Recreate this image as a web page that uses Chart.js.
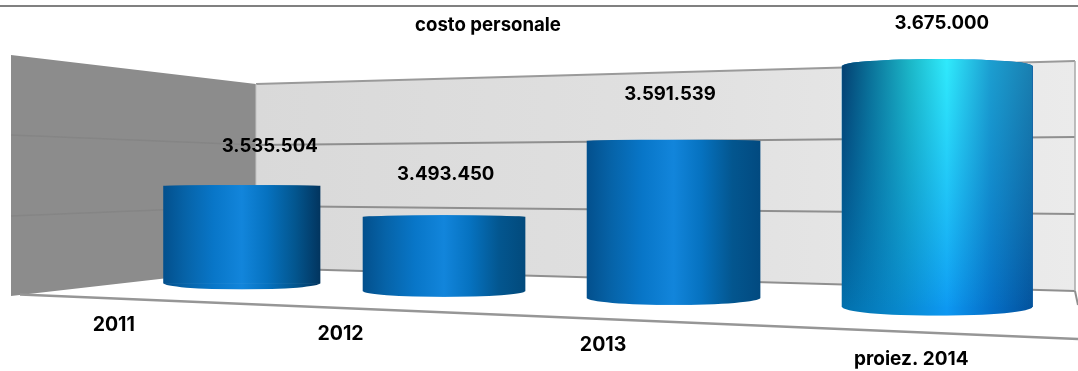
<!DOCTYPE html>
<html>
<head>
<meta charset="utf-8">
<title>costo personale</title>
<style>
  html, body { margin: 0; padding: 0; background: #fff; overflow: hidden; }
  #chart { display: block; }
</style>
<script src="https://cdn.jsdelivr.net/npm/chart.js@4/dist/chart.umd.js"></script>
</head>
<body>
<canvas id="chart" width="1078" height="371"></canvas>
<script>
const chartTitle = 'costo personale';
const categories = ['2011', '2012', '2013', 'proiez. 2014'];
const costValues = [3535504, 3493450, 3591539, 3675000];
const valueLabels = ['3.535.504', '3.493.450', '3.591.539', '3.675.000'];
// the axis does not start at zero and the floor recedes, so every column has its own foot
const columnFeet = [3390000, 3376000, 3363000, 3346000];

// look of the 3d view, per column
const columnWidths = [156.5, 162, 173, 190.5];
const topCapDepth = [1, 2, 1.5, 7];
const footCapDepth = [6.5, 6, 7, 9];
const shadowEdge = ['#02355f', '#024a7c', '#024a80'];
const valueOffsets = [[28, -39.5], [1.7, -42.3], [-3.5, -46.5], [4.5, -42.7]];
const categoryOffsets = [[-128, 42], [-103.5, 43], [-70.5, 47], [-26, 53]];

const FONT_FAMILY = 'Inter, "Open Sans", sans-serif';

// columns get wider apart towards the viewer
class PerspectiveCategoryScale extends Chart.CategoryScale {
    getPixelForDecimal(d) {
        const i = d * 4 - 0.5;
        return this.left + this.width * (0.2243 + 0.17708 * i + 0.00945 * i * i + 0.00107 * i * i * i);
    }
}
PerspectiveCategoryScale.id = 'perspectiveCategory';
PerspectiveCategoryScale.defaults = Chart.CategoryScale.defaults;

// same thing for height
class PerspectiveLinearScale extends Chart.LinearScale {
    getPixelForDecimal(d) {
        return this.bottom - this.height * (0.434 * d + 0.566 * d * d);
    }
}
PerspectiveLinearScale.id = 'perspectiveLinear';
PerspectiveLinearScale.defaults = Chart.LinearScale.defaults;

Chart.register(PerspectiveCategoryScale, PerspectiveLinearScale);

function columnGradient(ctx, left, width, stops) {
    const g = ctx.createLinearGradient(left, 0, left + width, 0);
    stops.forEach(s => g.addColorStop(s[0], s[1]));
    return g;
}

function blueStops(i) {
    return [
        [0, '#03508d'], [0.14, '#0663a8'], [0.32, '#0876c8'], [0.5, '#1285db'],
        [0.66, '#0672c0'], [0.84, '#03568f'], [1, shadowEdge[i]]
    ];
}
const HIGHLIGHT_FOOT_STOPS = [
    [0, '#0270ac'], [0.3, '#0888cc'], [0.55, '#0d98f2'], [0.78, '#0570c8'], [1, '#03529c']
];
const HIGHLIGHT_TOP_STOPS = [
    [0, '#043f70'], [0.14, '#0a6f96'], [0.36, '#1cb8c8'], [0.55, '#30eafc'],
    [0.78, '#1c9fd0'], [1, '#1a7fb0']
];

function fillFor(c) {
    if (c.dataIndex === undefined) return '#0876c8';
    const width = columnWidths[c.dataIndex];
    const left = c.chart.scales.x.getPixelForValue(c.dataIndex) - width / 2;
    // options also get resolved once before the first layout
    if (!isFinite(left)) return '#0876c8';
    const stops = c.dataIndex === 3 ? HIGHLIGHT_FOOT_STOPS : blueStops(c.dataIndex);
    return columnGradient(c.chart.ctx, left, width, stops);
}

function line(ctx, x0, y0, x1, y1, color, w) {
    ctx.strokeStyle = color;
    ctx.lineWidth = w;
    ctx.beginPath();
    ctx.moveTo(x0, y0);
    ctx.lineTo(x1, y1);
    ctx.stroke();
}

const backdrop = {
    id: 'backdrop',
    beforeDraw(chart) {
        const ctx = chart.ctx;
        ctx.save();

        line(ctx, 0, 6, 1078, 6, '#808080', 2);

        // back wall
        const wall = ctx.createLinearGradient(256, 0, 1075, 0);
        wall.addColorStop(0, '#d9d9d9');
        wall.addColorStop(0.5, '#e0e0e0');
        wall.addColorStop(1, '#ebebeb');
        ctx.fillStyle = wall;
        ctx.beginPath();
        ctx.moveTo(256, 84);
        ctx.lineTo(1075, 61);
        ctx.lineTo(1075, 291);
        ctx.lineTo(256, 268);
        ctx.closePath();
        ctx.fill();

        // side wall
        ctx.fillStyle = '#8c8c8c';
        ctx.beginPath();
        ctx.moveTo(11, 55);
        ctx.lineTo(256, 84);
        ctx.lineTo(256, 268);
        ctx.lineTo(11, 296);
        ctx.closePath();
        ctx.fill();
        line(ctx, 11, 135, 256, 145, '#858585', 1.5);
        line(ctx, 11, 216, 256, 206, '#858585', 1.5);

        // gridlines and edges
        line(ctx, 256, 84, 1075, 61, '#9a9a9a', 2);
        line(ctx, 256, 145, 1075, 137, '#8f8f8f', 2);
        line(ctx, 256, 206, 1075, 214, '#8f8f8f', 2);
        line(ctx, 256, 268, 1075, 291, '#8f8f8f', 2);
        line(ctx, 256, 84, 256, 268, '#c4c4c4', 1);
        line(ctx, 1075, 61, 1075, 291, '#a8a8a8', 1.5);
        line(ctx, 1075, 291, 1078, 305, '#8f8f8f', 2);
        line(ctx, 20, 294.5, 1078, 339, '#969696', 2.5);

        ctx.restore();
    }
};

const cylinders = {
    id: 'cylinders',
    afterDatasetsUpdate(chart) {
        chart.getDatasetMeta(0).data.forEach((bar, i) => {
            bar.width = columnWidths[i];
        });
    },
    afterDatasetsDraw(chart) {
        const ctx = chart.ctx;
        chart.getDatasetMeta(0).data.forEach((bar, i) => {
            const rx = bar.width / 2;
            const left = bar.x - rx;
            ctx.save();
            ctx.beginPath();
            ctx.moveTo(left, bar.y);
            ctx.ellipse(bar.x, bar.y, rx, topCapDepth[i], 0, Math.PI, 2 * Math.PI);
            ctx.lineTo(left + bar.width, bar.base);
            ctx.ellipse(bar.x, bar.base, rx, footCapDepth[i], 0, 0, Math.PI);
            ctx.closePath();
            ctx.clip();
            if (i === 3) {
                // lit from above: foot colours fade into the cyan top, row by row
                ctx.fillStyle = columnGradient(ctx, left, bar.width, HIGHLIGHT_FOOT_STOPS);
                ctx.fillRect(left, bar.y - topCapDepth[i], bar.width, bar.base - bar.y + topCapDepth[i] + footCapDepth[i]);
                ctx.fillStyle = columnGradient(ctx, left, bar.width, HIGHLIGHT_TOP_STOPS);
                const from = Math.floor(bar.y - topCapDepth[i]);
                const to = Math.ceil(bar.base);
                for (let y = from; y < to; y++) {
                    ctx.globalAlpha = Math.pow(1 - (y - from) / (to - from), 0.8);
                    ctx.fillRect(left, y, bar.width, 1);
                }
            } else {
                ctx.fillStyle = columnGradient(ctx, left, bar.width, blueStops(i));
                ctx.fillRect(left, bar.y - topCapDepth[i], bar.width, topCapDepth[i]);
                ctx.fillRect(left, bar.base, bar.width, footCapDepth[i]);
            }
            ctx.restore();
        });
    },
    afterDraw(chart) {
        const ctx = chart.ctx;
        ctx.save();
        ctx.fillStyle = '#000';
        ctx.textAlign = 'center';
        ctx.textBaseline = 'middle';
        ctx.font = '700 18.6px ' + FONT_FAMILY;
        ctx.fillText(chartTitle, 488, 25);
        chart.getDatasetMeta(0).data.forEach((bar, i) => {
            ctx.font = '700 18.6px ' + FONT_FAMILY;
            ctx.fillText(valueLabels[i], bar.x + valueOffsets[i][0], bar.y + valueOffsets[i][1]);
            ctx.font = '700 ' + (i === 3 ? 19 : 19.5) + 'px ' + FONT_FAMILY;
            ctx.fillText(categories[i], bar.x + categoryOffsets[i][0], bar.base + categoryOffsets[i][1]);
        });
        ctx.restore();
    }
};

new Chart(document.getElementById('chart'), {
    type: 'bar',
    data: {
        labels: categories,
        datasets: [{
            label: chartTitle,
            data: costValues.map((v, i) => [columnFeet[i], v]),
            backgroundColor: fillFor,
            borderWidth: 0,
            barThickness: 150
        }]
    },
    options: {
        responsive: false,
        animation: false,
        layout: { padding: 0 },
        plugins: {
            legend: { display: false },
            title: { display: false },
            tooltip: { enabled: false }
        },
        scales: {
            x: { type: 'perspectiveCategory', display: false, offset: true },
            y: { type: 'perspectiveLinear', display: false, min: 3185000, max: 3741000 }
        }
    },
    plugins: [backdrop, cylinders]
});
</script>
</body>
</html>
